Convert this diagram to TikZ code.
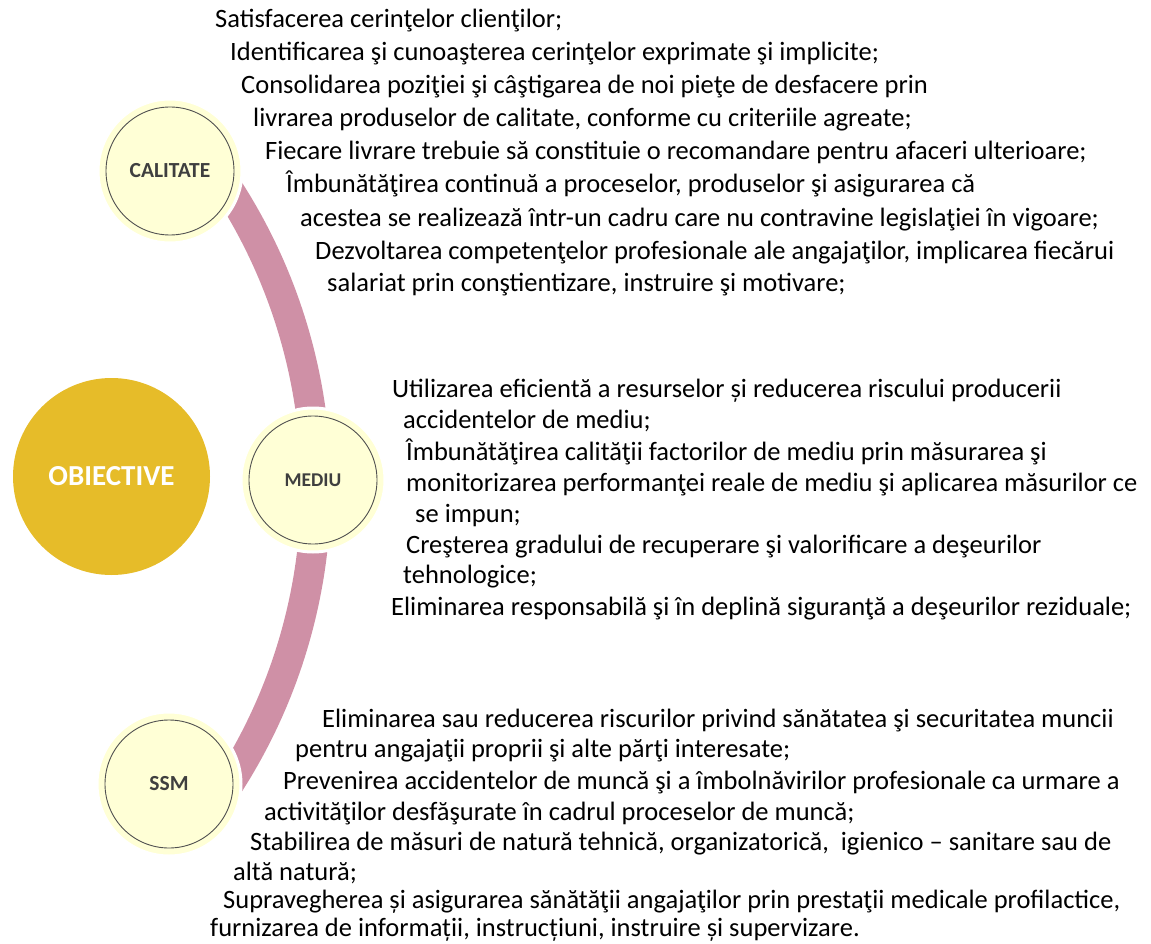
\documentclass[tikz,border=0pt]{standalone}
\usepackage{fontspec}
\setmainfont{Carlito}
\definecolor{gold}{RGB}{230,188,41}
\definecolor{band}{RGB}{207,144,166}
\definecolor{paleyel}{RGB}{255,255,214}
\definecolor{ringgray}{RGB}{80,80,80}
\definecolor{lblgray}{RGB}{63,63,63}
\begin{document}
\begin{tikzpicture}[x=1pt,y=1pt,
  txt/.style={anchor=base west,inner sep=0pt,font=\fontsize{26.5}{30}\selectfont},
  outerc/.style={circle,fill=paleyel,draw=white,line width=3pt,minimum size=144pt,inner sep=0pt},
  innerc/.style={circle,fill=paleyel,draw=ringgray,line width=0.9pt,minimum size=128pt,inner sep=0pt,text=lblgray,font=\fontsize{21.5}{24}\selectfont\bfseries},
  bandline/.style={draw=band,line width=30pt}]
\useasboundingbox (0,0) rectangle (1151,-944);
% objective
\node[circle,fill=gold,minimum size=197pt,inner sep=0pt,text=white,font=\fontsize{29}{32}\selectfont\bfseries] (obj) at (111.5,-476.5) {OBIECTIVE};
% arc
\coordinate (arcc) at (-234,-487);
\draw[bandline] ([shift={(36:550pt)}]arcc) arc[start angle=36,end angle=-34,radius=550pt];
% circles
\node[outerc] (calo) at (170,-171) {};
\node[innerc] (cal) at (170,-171) {CALITATE};
\node[outerc] (medo) at (313,-480) {};
\node[innerc,font=\fontsize{19.5}{22}\selectfont\bfseries] (med) at (313,-480) {MEDIU};
\node[outerc] (ssmo) at (169,-784) {};
\node[innerc] (ssm) at (169,-784) {SSM};
% CALITATE texts
\node[txt] (c1) at (215,-28) {Satisfacerea cerinţelor clienţilor;};
\node[txt] (c2) at (230,-61) {Identificarea şi cunoaşterea cerinţelor exprimate şi implicite;};
\node[txt] (c3) at (241,-94) {Consolidarea poziţiei şi câştigarea de noi pieţe de desfacere prin};
\node[txt] (c4) at (253,-127) {livrarea produselor de calitate, conforme cu criteriile agreate;};
\node[txt] (c5) at (265,-160) {Fiecare livrare trebuie să constituie o recomandare pentru afaceri ulterioare;};
\node[txt] (c6) at (286,-193) {Îmbunătăţirea continuă a proceselor, produselor şi asigurarea că};
\node[txt] (c7) at (300,-226) {acestea se realizează într-un cadru care nu contravine legislaţiei în vigoare;};
\node[txt] (c8) at (315,-259) {Dezvoltarea competenţelor profesionale ale angajaţilor, implicarea fiecărui};
\node[txt] (c9) at (327,-291) {salariat prin conştientizare, instruire şi motivare;};
% MEDIU texts
\node[txt] (m1) at (392,-397) {Utilizarea eficientă a resurselor și reducerea riscului producerii};
\node[txt] (m2) at (403,-428) {accidentelor de mediu;};
\node[txt] (m3) at (406,-460) {Îmbunătăţirea calităţii factorilor de mediu prin măsurarea şi};
\node[txt] (m4) at (406,-491) {monitorizarea performanţei reale de mediu şi aplicarea măsurilor ce};
\node[txt] (m5) at (415,-522) {se impun;};
\node[txt] (m6) at (406,-553) {Creşterea gradului de recuperare şi valorificare a deşeurilor};
\node[txt] (m7) at (403,-583) {tehnologice;};
\node[txt] (m8) at (391,-615) {Eliminarea responsabilă şi în deplină siguranţă a deşeurilor reziduale;};
% SSM texts
\node[txt] (s1) at (322,-727) {Eliminarea sau reducerea riscurilor privind sănătatea şi securitatea muncii};
\node[txt] (s2) at (295,-757) {pentru angajaţii proprii şi alte părţi interesate;};
\node[txt] (s3) at (283,-789) {Prevenirea accidentelor de muncă şi a îmbolnăvirilor profesionale ca urmare a};
\node[txt] (s4) at (264,-820) {activităţilor desfăşurate în cadrul proceselor de muncă;};
\node[txt] (s5) at (250,-850) {Stabilirea de măsuri de natură tehnică, organizatorică,\ \ igienico – sanitare sau de};
\node[txt] (s6) at (233,-880) {altă natură;};
\node[txt] (s7) at (223,-908) {Supravegherea și asigurarea sănătăţii angajaţilor prin prestaţii medicale profilactice,};
\node[txt] (s8) at (210,-936) {furnizarea de informații, instrucțiuni, instruire și supervizare.};
\end{tikzpicture}
\end{document}
